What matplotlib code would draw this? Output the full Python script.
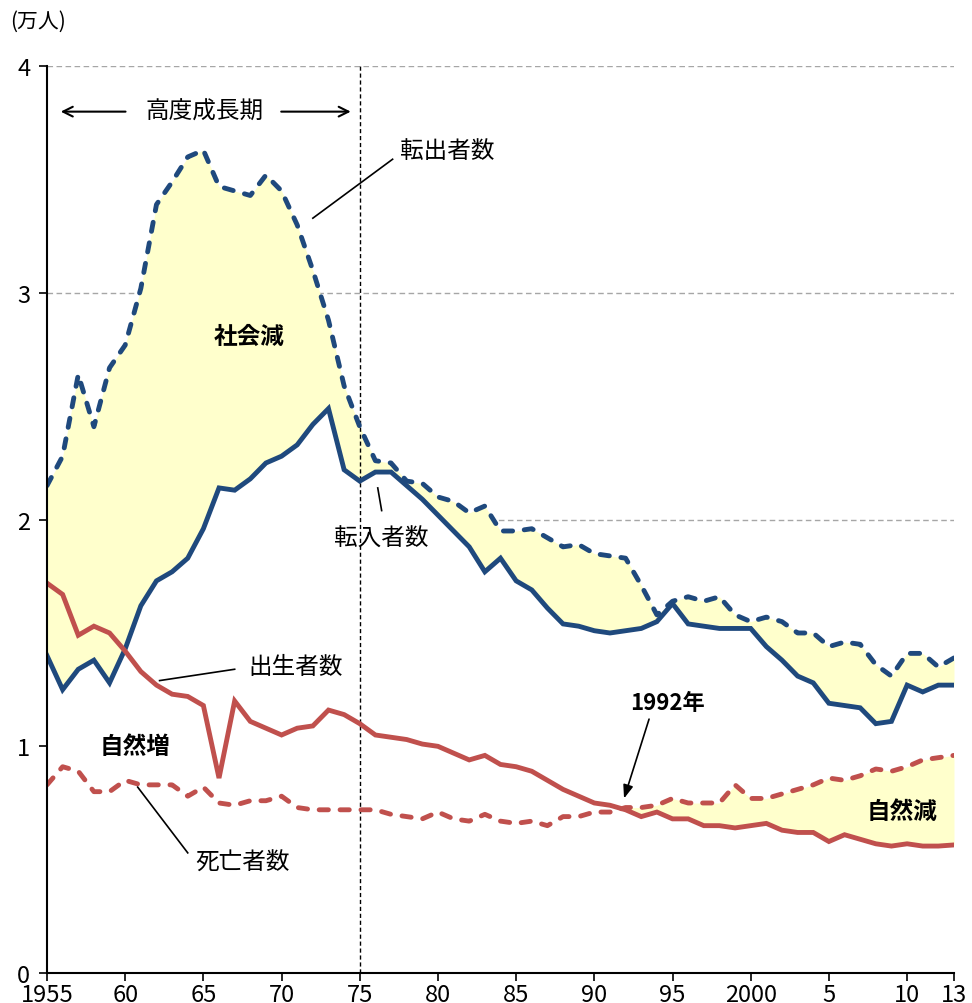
import matplotlib
matplotlib.use("Agg")
import matplotlib.pyplot as plt
import numpy as np

plt.rcParams['font.family'] = ['Noto Sans CJK JP', 'DejaVu Sans']

years = list(range(1955, 2014))

# 転出者数 (万人)
outflow = [2.15, 2.28, 2.64, 2.41, 2.67, 2.77, 3.02, 3.39, 3.49, 3.60,
           3.63, 3.47, 3.45, 3.43, 3.52, 3.45, 3.30, 3.10, 2.88, 2.59,
           2.41, 2.26, 2.25, 2.17, 2.16, 2.10, 2.08, 2.03, 2.06, 1.95,
           1.95, 1.96, 1.92, 1.88, 1.89, 1.85, 1.84, 1.83, 1.71, 1.58,
           1.64, 1.66, 1.64, 1.66, 1.58, 1.55, 1.57, 1.55, 1.50, 1.50,
           1.44, 1.46, 1.45, 1.36, 1.31, 1.41, 1.41, 1.35, 1.39]

# 転入者数 (万人)
inflow = [1.40, 1.25, 1.34, 1.38, 1.28, 1.43, 1.62, 1.73, 1.77, 1.83,
          1.96, 2.14, 2.13, 2.18, 2.25, 2.28, 2.33, 2.42, 2.49, 2.22,
          2.17, 2.21, 2.21, 2.15, 2.09, 2.02, 1.95, 1.88, 1.77, 1.83,
          1.73, 1.69, 1.61, 1.54, 1.53, 1.51, 1.50, 1.51, 1.52, 1.55,
          1.63, 1.54, 1.53, 1.52, 1.52, 1.52, 1.44, 1.38, 1.31, 1.28,
          1.19, 1.18, 1.17, 1.10, 1.11, 1.27, 1.24, 1.27, 1.27]

# 出生者数 (万人)
births = [1.72, 1.67, 1.49, 1.53, 1.50, 1.42, 1.33, 1.27, 1.23, 1.22,
          1.18, 0.86, 1.20, 1.11, 1.08, 1.05, 1.08, 1.09, 1.16, 1.14,
          1.10, 1.05, 1.04, 1.03, 1.01, 1.00, 0.97, 0.94, 0.96, 0.92,
          0.91, 0.89, 0.85, 0.81, 0.78, 0.75, 0.74, 0.72, 0.69, 0.71,
          0.68, 0.68, 0.65, 0.65, 0.64, 0.65, 0.66, 0.63, 0.62, 0.62,
          0.58, 0.61, 0.59, 0.57, 0.56, 0.57, 0.56, 0.56, 0.565]

# 死亡者数 (万人)
deaths = [0.83, 0.91, 0.89, 0.80, 0.80, 0.85, 0.83, 0.83, 0.83, 0.78,
          0.82, 0.75, 0.74, 0.76, 0.76, 0.78, 0.73, 0.72, 0.72, 0.72,
          0.72, 0.72, 0.70, 0.69, 0.68, 0.71, 0.68, 0.67, 0.70, 0.67,
          0.66, 0.67, 0.65, 0.69, 0.69, 0.71, 0.71, 0.73, 0.73, 0.74,
          0.77, 0.75, 0.75, 0.75, 0.83, 0.77, 0.77, 0.79, 0.81, 0.83,
          0.86, 0.85, 0.87, 0.90, 0.89, 0.91, 0.94, 0.95, 0.96]

xticks = [1955, 1960, 1965, 1970, 1975, 1980, 1985, 1990, 1995, 2000, 2005, 2010, 2013]
xticklabels = ["1955", "60", "65", "70", "75", "80", "85", "90", "95", "2000", "5", "10", "13"]
yticks = [0, 1, 2, 3, 4]

BLUE = "#1F497D"
RED = "#C0504D"
FILL = "#FFFFCC"

x = np.array(years, dtype=float)
out_a = np.array(outflow)
in_a = np.array(inflow)
b_a = np.array(births)
d_a = np.array(deaths)

fig = plt.figure(figsize=(9.72, 10.04), dpi=100)
ax = fig.add_axes([47 / 972, 30 / 1004, (954 - 47) / 972, (974 - 67.3) / 1004])

# grid lines, hidden below the migration areas
for yv in [2, 3, 4]:
    ax.axhline(yv, color="#A6A6A6", lw=1.0, ls=(0, (4, 2.5)), zorder=0.5)

ax.fill_between(x, 0, in_a, color="white", lw=0, zorder=1)
ax.fill_between(x, in_a, out_a, where=out_a >= in_a, interpolate=True,
                color=FILL, lw=0, zorder=1.2)
ax.fill_between(x, b_a, d_a, where=d_a >= b_a, interpolate=True,
                color=FILL, lw=0, zorder=1.2)

ax.axvline(1975, color="black", lw=1.0, ls=(0, (3, 2)), zorder=2)

lw = 3.5
dash = (0, (1.9, 2.4))
ax.plot(x, out_a, color=BLUE, lw=lw, ls=dash, dash_capstyle="round", zorder=3)
ax.plot(x, in_a, color=BLUE, lw=lw, solid_joinstyle="miter", zorder=3)
ax.plot(x, b_a, color=RED, lw=lw, solid_joinstyle="miter", zorder=3)
ax.plot(x, d_a, color=RED, lw=lw, ls=dash, dash_capstyle="round", zorder=3)

ax.set_xlim(1955, 2013)
ax.set_ylim(0, 4)
ax.set_xticks(xticks)
ax.set_xticklabels(xticklabels)
ax.set_yticks(yticks)
ax.set_yticklabels([str(v) for v in yticks])
ax.tick_params(axis="both", labelsize=17, length=6, width=1.2, direction="out", pad=1)
ax.tick_params(axis="y", pad=6)
for side in ["top", "right"]:
    ax.spines[side].set_visible(False)
for side in ["left", "bottom"]:
    ax.spines[side].set_linewidth(1.5)
    ax.spines[side].set_zorder(4)

fig.text(10 / 972, 1 - 22 / 1004, "(万人)", fontsize=15, ha="left", va="center")

tfs = 17
# 高度成長期 span
ax.text(1965.1, 3.80, "高度成長期", fontsize=tfs, ha="center", va="center")
ax.annotate("", xy=(1955.7, 3.80), xytext=(1960.2, 3.80),
            arrowprops=dict(arrowstyle="->,head_length=0.7,head_width=0.35", lw=1.5, color="black"))
ax.annotate("", xy=(1974.6, 3.80), xytext=(1969.8, 3.80),
            arrowprops=dict(arrowstyle="->,head_length=0.7,head_width=0.35", lw=1.5, color="black"))

# series labels with leader lines
ax.text(1980.6, 3.63, "転出者数", fontsize=tfs, ha="center", va="center")
ax.plot([1977.1, 1972.0], [3.59, 3.33], color="black", lw=1.2, zorder=3)

ax.text(1976.4, 1.92, "転入者数", fontsize=tfs, ha="center", va="center")
ax.plot([1976.15, 1976.4], [2.14, 2.04], color="black", lw=1.2, zorder=3)

ax.text(1970.9, 1.35, "出生者数", fontsize=tfs, ha="center", va="center")
ax.plot([1967.0, 1962.2], [1.34, 1.29], color="black", lw=1.2, zorder=3)

ax.text(1967.5, 0.49, "死亡者数", fontsize=tfs, ha="center", va="center")
ax.plot([1964.0, 1960.8], [0.53, 0.82], color="black", lw=1.2, zorder=3)

ax.text(1994.7, 1.195, "1992年", fontsize=16, ha="center", va="center", fontweight="bold")
ax.annotate("", xy=(1991.9, 0.77), xytext=(1993.5, 1.12),
            arrowprops=dict(arrowstyle="-|>,head_length=0.8,head_width=0.3", lw=1.2,
                            color="black", shrinkA=0, shrinkB=0))

# area labels
ax.text(1967.9, 2.81, "社会減", fontsize=tfs, ha="center", va="center", fontweight="bold")
ax.text(1960.6, 1.00, "自然増", fontsize=tfs, ha="center", va="center", fontweight="bold")
ax.text(2009.7, 0.715, "自然減", fontsize=tfs, ha="center", va="center", fontweight="bold")

fig.savefig("out.png", dpi=100)
